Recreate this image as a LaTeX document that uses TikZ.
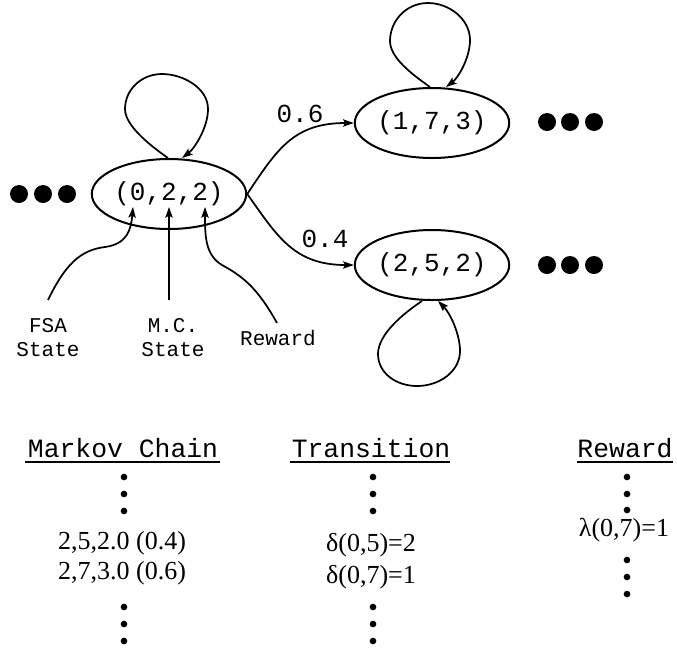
\documentclass[tikz,border=0pt]{standalone}
\usepackage{fontspec}
\setmainfont{Liberation Serif}
\setmonofont{Liberation Mono}
\usetikzlibrary{arrows.meta,shapes.geometric,calc}

\begin{document}
\begin{tikzpicture}[x=0.75pt,y=-0.75pt,
  line width=1.3pt,
  state/.style={ellipse,draw,line width=1.5pt,minimum width=108pt,minimum height=52.5pt,inner sep=0pt,
                font=\fontsize{19.5}{22}\selectfont\ttfamily},
  arr/.style={-{Stealth[length=8pt,width=5.5pt,inset=1.5pt]}},
  lbl/.style={font=\fontsize{19.5}{22}\selectfont\ttfamily,inner sep=0pt},
  small/.style={font=\fontsize{15.75}{18}\selectfont\ttfamily,inner sep=0pt,align=center},
  head/.style={font=\fontsize{19.8}{22}\selectfont\ttfamily,inner sep=0pt},
  entry/.style={font=\fontsize{19.5}{22}\selectfont\rmfamily,inner sep=0pt},
  bigdot/.style={circle,fill=black,minimum size=13.5pt,inner sep=0pt},
  vdot/.style={circle,fill=black,minimum size=5pt,inner sep=0pt}]
\useasboundingbox (0,0) rectangle (677,654);

% states of the product chain
\node[state] (L) at (169,194) {(0,2,2)};
\node[state] (T) at (432,123) {(1,7,3)};
\node[state] (B) at (432,265) {(2,5,2)};

% ellipsis dots
\foreach \x [count=\i] in {19,43,67}  \node[bigdot] (dl\i) at (\x,194) {};
\foreach \x [count=\i] in {547,570,594} \node[bigdot] (dt\i) at (\x,122) {};
\foreach \x [count=\i] in {547,570,594} \node[bigdot] (db\i) at (\x,265) {};

% self loops, drawn relative to the anchor they sit on
\draw[arr,shift={(L.north)}] (-1,0) .. controls (-21,-14) and (-44,-33) .. (-44,-49)
  .. controls (-44,-68) and (-28,-84) .. (-7,-84)
  .. controls (14,-84) and (39,-70) .. (39,-49)
  .. controls (39,-30) and (25,-9) .. (13,0);
\draw[arr,shift={(T.north)}] (-2,0) .. controls (-22,-14) and (-42,-30) .. (-42,-46)
  .. controls (-42,-66) and (-26,-84) .. (-4,-84)
  .. controls (17,-84) and (38,-68) .. (38,-47)
  .. controls (38,-29) and (26,-9) .. (14,0);
\draw[arr,shift={(B.south)}] (-10,0) .. controls (-28,12) and (-54,33) .. (-54,53)
  .. controls (-54,72) and (-36,85) .. (-15,85)
  .. controls (8,85) and (28,70) .. (28,50)
  .. controls (28,33) and (18,12) .. (6,0);

% transitions
\draw[arr] (L.east) .. controls +(30,-45) and +(-60,0) .. (T.west);
\draw[arr] (L.east) .. controls +(30,42) and +(-60,0) .. (B.west);
\node[lbl] (p6) at (300,114) {0.6};
\node[lbl] (p4) at (325,239) {0.4};

% component labels
\node[small] (fsa) at (48,338) {FSA\\State};
\node[small] (mc)  at (173,338) {M.C.\\State};
\node[small] (rw)  at (278,338) {Reward};
\coordinate (fsaT) at (48,300);
\coordinate (mcT)  at (169,300);
\coordinate (rwT)  at (277,323);
\coordinate (fsaH) at (133,207);
\coordinate (mcH)  at (169,207);
\coordinate (rwH)  at (205,207);
\draw[arr] (fsaT) .. controls (65,265) and (80,250) .. (105,247)
                  .. controls (127,244) and (131,230) .. (fsaH);
\draw[arr] (mcT) -- (mcH);
\draw[arr] (rwT) .. controls (257,287) and (242,276) .. (222,265)
                 .. controls (205,255) and (205,235) .. (rwH);

% tables
\node[head] (h1) at (123,448) {Markov Chain};
\node[head] (h2) at (371,448) {Transition};
\node[head] (h3) at (625,448) {Reward};
\draw[line width=1.1pt] (25,462) -- (220,462);
\draw[line width=1.1pt] (290,462) -- (450,462);
\draw[line width=1.1pt] (577,462) -- (673,462);

\foreach \y [count=\i] in {477,494,511,607,624,641} {
  \node[vdot] (m\i) at (124,\y) {};
  \node[vdot] (t\i) at (373,\y) {};
}
\foreach \y [count=\i] in {477,494,510,560,577,594}
  \node[vdot] (r\i) at (627,\y) {};

\node[entry] (m25) at (122,543) {2,5,2.0 (0.4)};
\node[entry] (m27) at (122,573) {2,7,3.0 (0.6)};
\node[entry] (t05) at (371,545) {δ(0,5)=2};
\node[entry] (t07) at (371,577) {δ(0,7)=1};
\node[entry] (r07) at (624,530) {λ(0,7)=1};
\end{tikzpicture}
\end{document}
